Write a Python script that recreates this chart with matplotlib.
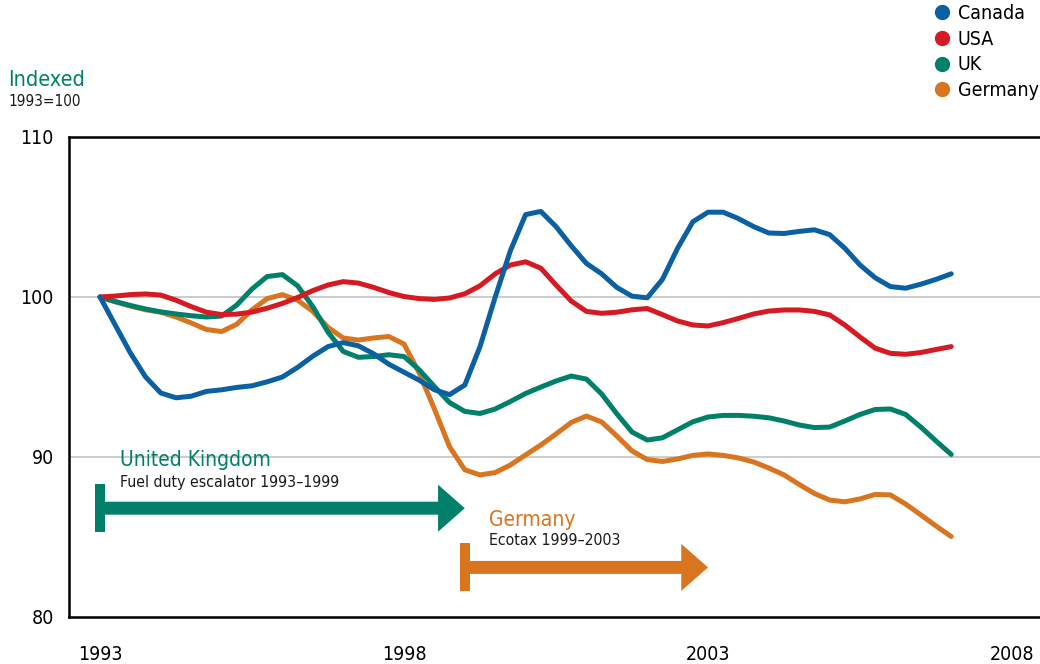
import numpy as np
import matplotlib
matplotlib.use("Agg")
from matplotlib import pyplot as plt
from matplotlib import font_manager
from matplotlib.lines import Line2D
from matplotlib.patches import FancyArrow

# quarterly readings, 1993 Q1 .. 2007 Q1 (indexed, 1993 = 100)
years = np.arange(1993, 2007.01, 0.25)

canada = [100.0, 98.25, 96.5, 95.0,
          94.0, 93.7, 93.8, 94.1,
          94.2, 94.35, 94.45, 94.7,
          95.0, 95.6, 96.3, 96.9,
          97.15, 96.95, 96.45, 95.8,
          95.3, 94.8, 94.2, 93.9,
          94.5, 96.9, 100.0, 102.9,
          105.15, 105.35, 104.4, 103.2,
          102.1, 101.45, 100.6, 100.05,
          99.95, 101.1, 103.05, 104.7,
          105.3, 105.3, 104.9, 104.4,
          104.0, 103.97, 104.1, 104.2,
          103.9, 103.05, 102.0, 101.2,
          100.65, 100.55, 100.8, 101.1,
          101.45]

usa = [100.0, 100.06, 100.15, 100.19,
       100.12, 99.8, 99.4, 99.05,
       98.9, 98.93, 99.06, 99.3,
       99.6, 99.97, 100.4, 100.75,
       100.96, 100.87, 100.6, 100.28,
       100.03, 99.9, 99.85, 99.94,
       100.2, 100.7, 101.45, 102.0,
       102.2, 101.8, 100.75, 99.75,
       99.1, 98.98, 99.05, 99.2,
       99.28, 98.9, 98.5, 98.25,
       98.19, 98.4, 98.66, 98.94,
       99.12, 99.19, 99.19, 99.1,
       98.88, 98.25, 97.5, 96.8,
       96.48, 96.42, 96.53, 96.72,
       96.9]

uk = [100.0, 99.72, 99.47, 99.25,
      99.07, 98.94, 98.83, 98.75,
      98.81, 99.5, 100.5, 101.28,
      101.4, 100.7, 99.4, 97.8,
      96.6, 96.23, 96.28, 96.39,
      96.28, 95.45, 94.4, 93.4,
      92.85, 92.72, 93.0, 93.47,
      93.97, 94.37, 94.75, 95.06,
      94.87, 93.94, 92.7, 91.56,
      91.06, 91.2, 91.7, 92.2,
      92.5, 92.6, 92.6, 92.55,
      92.45, 92.25, 92.0, 91.84,
      91.87, 92.25, 92.66, 92.97,
      93.0, 92.66, 91.87, 91.0,
      90.16]

germany = [100.0, 99.7, 99.43, 99.2,
           99.05, 98.75, 98.38, 97.97,
           97.84, 98.3, 99.2, 99.9,
           100.15, 99.8, 99.1, 98.1,
           97.44, 97.31, 97.44, 97.53,
           97.06, 95.25, 93.0, 90.63,
           89.2, 88.88, 89.03, 89.5,
           90.13, 90.75, 91.44, 92.16,
           92.56, 92.19, 91.31, 90.38,
           89.84, 89.72, 89.88, 90.1,
           90.19, 90.1, 89.94, 89.69,
           89.31, 88.88, 88.28, 87.72,
           87.31, 87.2, 87.38, 87.66,
           87.63, 87.06, 86.38, 85.69,
           85.03]

series_names = ["Canada", "USA", "UK", "Germany"]
xticks = [1993, 1998, 2003, 2008]
yticks = [80, 90, 100, 110]

uk_policy = (1993, 1999)
de_policy = (1999, 2003)

BLUE = "#0B5FA3"
RED = "#D51A24"
GREEN = "#00806A"
ORANGE = "#D9741F"

# narrow font if we have it
names = {f.name for f in font_manager.fontManager.ttflist}
if "Liberation Sans Narrow" in names:
    plt.rcParams["font.family"] = ["Liberation Sans Narrow", "DejaVu Sans"]
    plt.rcParams["font.stretch"] = "normal"
else:
    plt.rcParams["font.family"] = ["DejaVu Sans"]
    plt.rcParams["font.stretch"] = "condensed"

fig = plt.figure(figsize=(10.4, 6.64), dpi=100)
ax = fig.add_axes([69 / 1040, 1 - 617 / 664, 1 - 69 / 1040, 480 / 664])

ax.set_xlim(1992.49, 2008.46)
ax.set_ylim(80, 110)

for v in (90, 100):
    ax.axhline(v, color="#C4C4C4", lw=1.2, zorder=1)

line_kw = dict(lw=3.6, solid_capstyle="round", solid_joinstyle="round")
ax.plot(years, germany, color=ORANGE, zorder=3, **line_kw)
ax.plot(years, uk, color=GREEN, zorder=4, **line_kw)
ax.plot(years, usa, color=RED, zorder=5, **line_kw)
ax.plot(years, canada, color=BLUE, zorder=6, **line_kw)

ax.set_xticks(xticks)
ax.set_xticklabels([str(t) for t in xticks])
ax.set_yticks(yticks)
ax.set_yticklabels([str(t) for t in yticks])
ax.tick_params(axis="both", length=0, labelsize=14)
ax.tick_params(axis="x", pad=20)
ax.tick_params(axis="y", pad=11)

for side in ("left", "top", "bottom"):
    ax.spines[side].set_linewidth(1.8)
    ax.spines[side].set_color("black")
ax.spines["right"].set_visible(False)

# policy arrows (bar at start, arrow to end year)
def policy_arrow(period, level, color):
    start, end = period
    ax.plot([start, start], [level - 1.5, level + 1.5], color=color, lw=7.2,
            solid_capstyle="butt", zorder=2)
    ax.add_patch(FancyArrow(start, level, end - start, 0, width=0.81,
                            head_width=2.94, head_length=0.44,
                            length_includes_head=True, color=color, lw=0,
                            zorder=2))

policy_arrow(uk_policy, 86.8, GREEN)
policy_arrow(de_policy, 83.1, ORANGE)

ax.text(1993.33, 89.45, "United Kingdom", color=GREEN, fontsize=15, va="baseline")
ax.text(1993.33, 88.15, "Fuel duty escalator 1993\u20131999", color="#1A1A1A",
        fontsize=11.3, va="baseline")
ax.text(1999.39, 85.7, "Germany", color=ORANGE, fontsize=15, va="baseline")
ax.text(1999.39, 84.47, "Ecotax 1999\u20132003", color="#1A1A1A",
        fontsize=11.3, va="baseline")

fig.text(8 / 1040, 1 - 86 / 664, "Indexed", color=GREEN, fontsize=15.5, va="baseline")
fig.text(8 / 1040, 1 - 106 / 664, "1993=100", color="#1A1A1A", fontsize=11,
         va="baseline")

handles = [Line2D([], [], marker="o", ls="none", color=c, markersize=10)
           for c in (BLUE, RED, GREEN, ORANGE)]
fig.legend(handles, series_names, loc="upper right",
           bbox_to_anchor=(1.01, 1.012), frameon=False, fontsize=14,
           handletextpad=0.3, labelspacing=0.35, handlelength=1.0,
           borderaxespad=0.2)

fig.savefig("out.png", dpi=100)
